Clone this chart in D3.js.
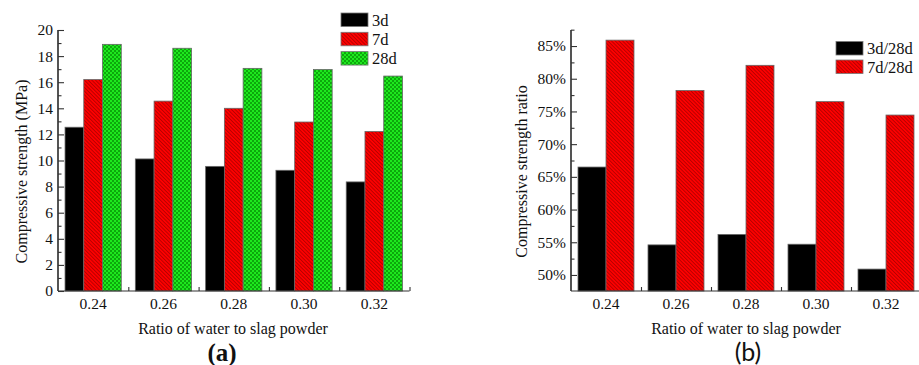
<!DOCTYPE html>
<html>
<head>
<meta charset="utf-8">
<script src="https://cdn.jsdelivr.net/npm/d3@7/dist/d3.min.js"></script>
</head>
<body style="margin:0">
<svg id="chart" width="919" height="365"></svg>
<script>
// Water-to-slag ratios on the x axis
const ratios = ["0.24", "0.26", "0.28", "0.30", "0.32"];

// Panel (a): compressive strength, MPa
const strengthSeries = ["3d", "7d", "28d"];
const strength3d  = [12.55, 10.12, 9.55, 9.25, 8.36];
const strength7d  = [16.2, 14.55, 14.0, 12.95, 12.22];
const strength28d = [18.9, 18.6, 17.06, 16.97, 16.47];
const strengthTicks = [0, 2, 4, 6, 8, 10, 12, 14, 16, 18, 20];

// Panel (b): strength ratio relative to 28 days, %
const ratioSeries = ["3d/28d", "7d/28d"];
const ratio3d28d = [66.5, 54.6, 56.2, 54.7, 50.9];
const ratio7d28d = [85.9, 78.2, 82.05, 76.5, 74.45];
const ratioTicks = [50, 55, 60, 65, 70, 75, 80, 85];

const svg = d3.select("#chart");
const defs = svg.append("defs");

// Red fill with dark diagonal hatch
const hatch = defs.append("pattern")
  .attr("id", "redHatch").attr("patternUnits", "userSpaceOnUse")
  .attr("width", 2.6).attr("height", 2.6)
  .attr("patternTransform", "rotate(-45)");
hatch.append("rect").attr("width", 2.6).attr("height", 2.6).attr("fill", "#ff0000");
hatch.append("line").attr("x1", 0.5).attr("y1", 0).attr("x2", 0.5).attr("y2", 2.6)
  .attr("stroke", "#9a0000").attr("stroke-width", 0.7);

// Green fill with small checker
const check = defs.append("pattern")
  .attr("id", "greenCheck").attr("patternUnits", "userSpaceOnUse")
  .attr("width", 4).attr("height", 4);
check.append("rect").attr("width", 4).attr("height", 4).attr("fill", "#1ee81e");
check.append("rect").attr("width", 2).attr("height", 2).attr("fill", "#0ca80c");
check.append("rect").attr("x", 2).attr("y", 2).attr("width", 2).attr("height", 2).attr("fill", "#0ca80c");

const fills = {
  "3d": "#000", "7d": "url(#redHatch)", "28d": "url(#greenCheck)",
  "3d/28d": "#000", "7d/28d": "url(#redHatch)"
};
const axisColor = "#333";

// shared text styling
function label(sel, size, family) {
  return sel.style("font-family", family || "\"Liberation Serif\"")
    .style("font-size", size + "px").style("fill", "#111");
}

function drawPanel(cfg) {
  const g = svg.append("g");
  const x = d3.scaleBand().domain(ratios).range([cfg.x0, cfg.x1])
    .paddingInner(0.2).paddingOuter(0.1);
  const y = d3.scaleLinear().domain(cfg.yDomain).range([cfg.yBottom, cfg.yTop]);
  const xs = d3.scaleBand().domain(cfg.series).range([0, x.bandwidth()]);

  // bars
  cfg.series.forEach((s, si) => {
    g.append("g").selectAll("rect").data(cfg.values[si]).join("rect")
      .attr("x", (d, i) => x(ratios[i]) + xs(s))
      .attr("y", d => y(d))
      .attr("width", xs.bandwidth())
      .attr("height", d => y(cfg.yDomain[0]) - y(d))
      .attr("fill", fills[s])
      .attr("stroke", "#666").attr("stroke-width", 0.8);
  });

  // y axis with inward major and minor ticks
  const yAxis = d3.axisRight(y).tickValues(cfg.majorTicks).tickSize(6).tickFormat("");
  const ya = g.append("g").attr("transform", `translate(${cfg.x0},0)`).call(yAxis);
  const yMinor = d3.axisRight(y).tickValues(cfg.minorTicks).tickSize(3.5).tickFormat("");
  const ym = g.append("g").attr("transform", `translate(${cfg.x0},0)`).call(yMinor);
  [ya, ym].forEach(a => {
    a.select(".domain").attr("stroke", axisColor).attr("stroke-width", 1.2)
      .attr("d", `M0,${cfg.yBottom}V${cfg.yTop}`);
    a.selectAll(".tick line").attr("stroke", axisColor).attr("stroke-width", 1.1);
  });
  svg.append("g").selectAll("text").data(cfg.majorTicks).join("text")
    .attr("x", cfg.x0 - 5).attr("y", d => y(d)).attr("dy", "0.35em")
    .attr("text-anchor", "end")
    .call(label, 15.5)
    .text(cfg.tickFormat);

  // x axis: small upward ticks at group boundaries
  const bounds = ratios.slice(1).map(r => x(r) - x.step() * x.paddingInner() / 2).concat([cfg.x1]);
  const xb = d3.scaleLinear().domain([cfg.x0, cfg.x1]).range([cfg.x0, cfg.x1]);
  const xa = g.append("g").attr("transform", `translate(0,${cfg.yBottom})`)
    .call(d3.axisTop(xb).tickValues(bounds).tickSize(4).tickFormat(""));
  xa.select(".domain").attr("stroke", axisColor).attr("stroke-width", 1.2)
    .attr("d", `M${cfg.x0},0H${cfg.x1}`);
  xa.selectAll(".tick line").attr("stroke", axisColor).attr("stroke-width", 1.1);
  svg.append("g").selectAll("text").data(ratios).join("text")
    .attr("x", d => x(d) + x.bandwidth() / 2).attr("y", 309)
    .attr("text-anchor", "middle").call(label, 15.5).text(d => d);

  // axis titles
  svg.append("text").attr("x", cfg.xTitleX).attr("y", 334)
    .attr("text-anchor", "middle").call(label, 16)
    .text("Ratio of water to slag powder");
  svg.append("text")
    .attr("transform", `translate(${cfg.yTitleX},${171.5}) rotate(-90)`)
    .attr("text-anchor", "middle").call(label, 16).text(cfg.yTitle);

  // legend
  cfg.series.forEach((s, i) => {
    const ty = cfg.legendY + i * cfg.legendStep;
    g.append("rect").attr("x", cfg.legendX).attr("y", ty)
      .attr("width", 27).attr("height", 13.5)
      .attr("fill", fills[s]).attr("stroke", "#777").attr("stroke-width", 0.8);
    svg.append("text").attr("x", cfg.legendX + 31).attr("y", ty + 7).attr("dy", "0.35em")
      .call(label, 16.5).text(s);
  });

  // panel label
  svg.append("text").attr("x", cfg.labelX).attr("y", 361)
    .attr("text-anchor", "middle")
    .call(label, cfg.labelSize, cfg.labelFont)
    .style("font-weight", cfg.labelWeight)
    .text(cfg.label);
}

drawPanel({
  x0: 58, x1: 409.5, yTop: 30, yBottom: 291,
  yDomain: [0, 20], series: strengthSeries,
  values: [strength3d, strength7d, strength28d],
  majorTicks: strengthTicks,
  minorTicks: d3.range(1, 20, 2),
  tickFormat: d => d,
  yTitle: "Compressive strength (MPa)", yTitleX: 27, xTitleX: 233,
  legendX: 341, legendY: 13, legendStep: 19.3,
  label: "(a)", labelX: 222, labelSize: 25, labelWeight: "bold", labelFont: "\"Liberation Serif\""
});

drawPanel({
  x0: 571, x1: 921, yTop: 30, yBottom: 291,
  yDomain: [47.55, 87.45], series: ratioSeries,
  values: [ratio3d28d, ratio7d28d],
  majorTicks: ratioTicks,
  minorTicks: d3.range(52.5, 88, 5),
  tickFormat: d => d + "%",
  yTitle: "Compressive strength ratio", yTitleX: 527, xTitleX: 746,
  legendX: 836, legendY: 41.5, legendStep: 18.5,
  label: "(b)", labelX: 748, labelSize: 25, labelWeight: "normal", labelFont: "Lato"
});
</script>
</body>
</html>
